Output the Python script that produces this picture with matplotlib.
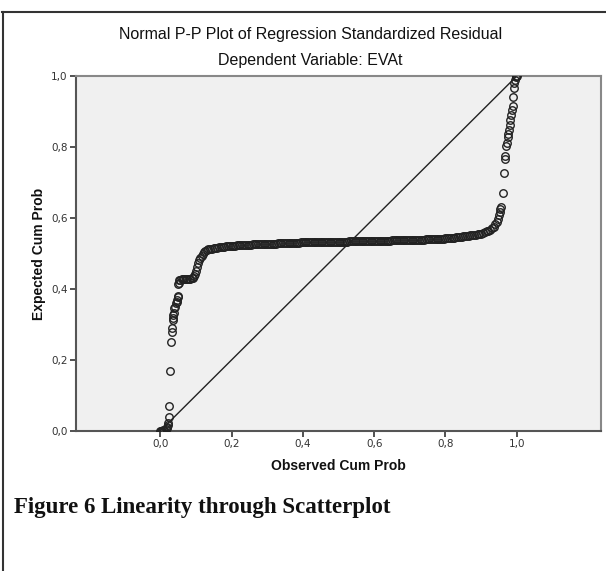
import numpy as np
import matplotlib
matplotlib.use('Agg')
import matplotlib.pyplot as plt
from matplotlib.lines import Line2D

# P-P plot values (observed cum prob, expected cum prob)
origin_x = [0.000, 0.003, 0.006, 0.009, 0.012, 0.015, 0.018, 0.020, 0.021, 0.022]
origin_y = [0.000, 0.000, 0.001, 0.002, 0.003, 0.005, 0.008, 0.012, 0.017, 0.022]

left_x = [0.025, 0.026, 0.028, 0.030, 0.033, 0.034, 0.035, 0.036, 0.037, 0.038,
          0.040, 0.042, 0.044, 0.046, 0.048, 0.049, 0.050, 0.051, 0.053, 0.054]
left_y = [0.040, 0.070, 0.169, 0.250, 0.278, 0.290, 0.313, 0.318, 0.327, 0.333,
          0.346, 0.350, 0.360, 0.364, 0.368, 0.377, 0.380, 0.414, 0.418, 0.424]

shoulder_x = [0.056, 0.060, 0.064, 0.068, 0.072, 0.076, 0.080, 0.084, 0.088, 0.092,
              0.095, 0.098, 0.101, 0.104, 0.107, 0.110, 0.113, 0.116, 0.119, 0.122,
              0.126]
shoulder_y = [0.426, 0.427, 0.427, 0.428, 0.428, 0.428, 0.429, 0.429, 0.430, 0.432,
              0.436, 0.443, 0.452, 0.462, 0.472, 0.481, 0.488, 0.494, 0.499, 0.503,
              0.508]

band_x = [0.130, 0.135, 0.140, 0.145, 0.150, 0.155, 0.160, 0.165, 0.170, 0.175,
          0.180, 0.185, 0.190, 0.195, 0.200, 0.205, 0.210, 0.215, 0.220, 0.225,
          0.230, 0.235, 0.240, 0.245, 0.250, 0.255, 0.260, 0.265, 0.270, 0.275,
          0.280, 0.285, 0.290, 0.295, 0.300, 0.305, 0.310, 0.315, 0.320, 0.325,
          0.330, 0.335, 0.340, 0.345, 0.350, 0.355, 0.360, 0.365, 0.370, 0.375,
          0.380, 0.385, 0.390, 0.395, 0.400, 0.405, 0.410, 0.415, 0.420, 0.425,
          0.430, 0.435, 0.440, 0.445, 0.450, 0.455, 0.460, 0.465, 0.470, 0.475,
          0.480, 0.485, 0.490, 0.495, 0.500, 0.505, 0.510, 0.515, 0.520, 0.525,
          0.530, 0.535, 0.540, 0.545, 0.550, 0.555, 0.560, 0.565, 0.570, 0.575,
          0.580, 0.585, 0.590, 0.595, 0.600, 0.605, 0.610, 0.615, 0.620, 0.625,
          0.630, 0.635, 0.640, 0.645, 0.650, 0.655, 0.660, 0.665, 0.670, 0.675,
          0.680, 0.685, 0.690, 0.695, 0.700, 0.705, 0.710, 0.715, 0.720, 0.725,
          0.730, 0.735, 0.740, 0.745, 0.750, 0.755, 0.760, 0.765, 0.770, 0.775,
          0.780, 0.785, 0.790, 0.795, 0.800, 0.805, 0.810, 0.815, 0.820, 0.825,
          0.830, 0.835, 0.840, 0.845, 0.850, 0.855, 0.860, 0.865, 0.870, 0.875,
          0.880, 0.885, 0.890, 0.895, 0.900, 0.905, 0.910, 0.915, 0.920, 0.925]
band_y = [0.511, 0.512, 0.513, 0.514, 0.515, 0.516, 0.516, 0.517, 0.518, 0.518,
          0.519, 0.520, 0.520, 0.521, 0.522, 0.522, 0.522, 0.523, 0.523, 0.523,
          0.524, 0.524, 0.524, 0.525, 0.525, 0.525, 0.526, 0.526, 0.526, 0.526,
          0.527, 0.527, 0.527, 0.527, 0.527, 0.528, 0.528, 0.528, 0.528, 0.528,
          0.529, 0.529, 0.529, 0.529, 0.529, 0.529, 0.530, 0.530, 0.530, 0.530,
          0.530, 0.530, 0.530, 0.531, 0.531, 0.531, 0.531, 0.531, 0.531, 0.531,
          0.531, 0.532, 0.532, 0.532, 0.532, 0.532, 0.532, 0.532, 0.532, 0.532,
          0.532, 0.532, 0.533, 0.533, 0.533, 0.533, 0.533, 0.533, 0.533, 0.533,
          0.534, 0.534, 0.534, 0.534, 0.534, 0.534, 0.534, 0.534, 0.535, 0.535,
          0.535, 0.535, 0.535, 0.535, 0.535, 0.535, 0.536, 0.536, 0.536, 0.536,
          0.536, 0.536, 0.536, 0.536, 0.537, 0.537, 0.537, 0.537, 0.537, 0.537,
          0.537, 0.538, 0.538, 0.538, 0.538, 0.538, 0.538, 0.539, 0.539, 0.539,
          0.539, 0.539, 0.539, 0.540, 0.540, 0.540, 0.540, 0.541, 0.541, 0.541,
          0.541, 0.542, 0.542, 0.542, 0.543, 0.543, 0.544, 0.544, 0.545, 0.545,
          0.546, 0.546, 0.547, 0.547, 0.548, 0.549, 0.549, 0.550, 0.551, 0.552,
          0.552, 0.553, 0.554, 0.555, 0.556, 0.558, 0.560, 0.562, 0.564, 0.567]

knee_x = [0.930, 0.935, 0.940, 0.944, 0.947, 0.950, 0.952, 0.954, 0.955]
knee_y = [0.571, 0.576, 0.583, 0.590, 0.598, 0.608, 0.617, 0.626, 0.632]

right_x = [0.960, 0.963, 0.966, 0.967, 0.971, 0.972, 0.974, 0.976, 0.978, 0.980,
           0.981, 0.983, 0.986, 0.988, 0.990, 0.992, 0.993, 0.995, 0.997, 0.999, 1.000]
right_y = [0.671, 0.728, 0.765, 0.775, 0.803, 0.812, 0.829, 0.838, 0.848, 0.862,
           0.876, 0.890, 0.904, 0.915, 0.942, 0.965, 0.979, 0.990, 0.996, 0.999, 1.000]

ticks = [0.0, 0.2, 0.4, 0.6, 0.8, 1.0]
tick_labels = ['0,0', '0,2', '0,4', '0,6', '0,8', '1,0']

obs = np.concatenate([origin_x, left_x, shoulder_x, band_x, knee_x, right_x])
exp_ = np.concatenate([origin_y, left_y, shoulder_y, band_y, knee_y, right_y])

fig = plt.figure(figsize=(6.06, 5.71), dpi=100)
W, H = 606.0, 571.0
# axes box in pixels: left 76, right 601, top 76, bottom 431
ax = fig.add_axes([76 / W, 1 - 431 / H, (601 - 76) / W, (431 - 76) / H])
ax.set_facecolor('#f0f0f0')
ax.plot([0, 1], [0, 1], color='#222222', lw=1.0, zorder=2)
ax.plot(obs, exp_, 'o', ms=5.4, mfc='none', mec='#222222', mew=1.0, zorder=3)

ax.set_xlim(-0.236, 1.236)
ax.set_ylim(0, 1)
ax.set_xticks(ticks)
ax.set_xticklabels(tick_labels)
ax.set_yticks(ticks)
ax.set_yticklabels(tick_labels)
ax.tick_params(direction='out', length=4, width=1.2, color='#333333',
               labelsize=7.5, labelcolor='#333333', pad=2)
for side in ['left', 'bottom']:
    ax.spines[side].set_color('#555555')
    ax.spines[side].set_linewidth(1.5)
for side in ['right', 'top']:
    ax.spines[side].set_color('#888888')
    ax.spines[side].set_linewidth(1.5)

lab = dict(family='Liberation Sans', fontsize=10, fontweight='bold', color='#111111')
ax.set_xlabel('Observed Cum Prob', labelpad=7, **lab)
ax.set_ylabel('Expected Cum Prob', labelpad=4, **lab)

fig.text(311 / W, 1 - 34 / H, 'Normal P-P Plot of Regression Standardized Residual',
         ha='center', va='center', family='Liberation Sans', fontsize=11.5, color='#111111')
fig.text(310 / W, 1 - 61 / H, 'Dependent Variable: EVAt',
         ha='center', va='center', family='Liberation Sans', fontsize=11.5, color='#111111')

fig.text(14 / W, 1 - 507 / H, 'Figure 6 Linearity through Scatterplot',
         ha='left', va='center', family='Liberation Serif', fontsize=16.5,
         fontweight='bold', color='#111111')

# open page frame, top and left edges only
fig.add_artist(Line2D([2 / W, 1], [1 - 12 / H, 1 - 12 / H], color='#333333', lw=1.5))
fig.add_artist(Line2D([3 / W, 3 / W], [0, 1 - 12 / H], color='#333333', lw=1.5))

fig.savefig('out.png', dpi=100)
